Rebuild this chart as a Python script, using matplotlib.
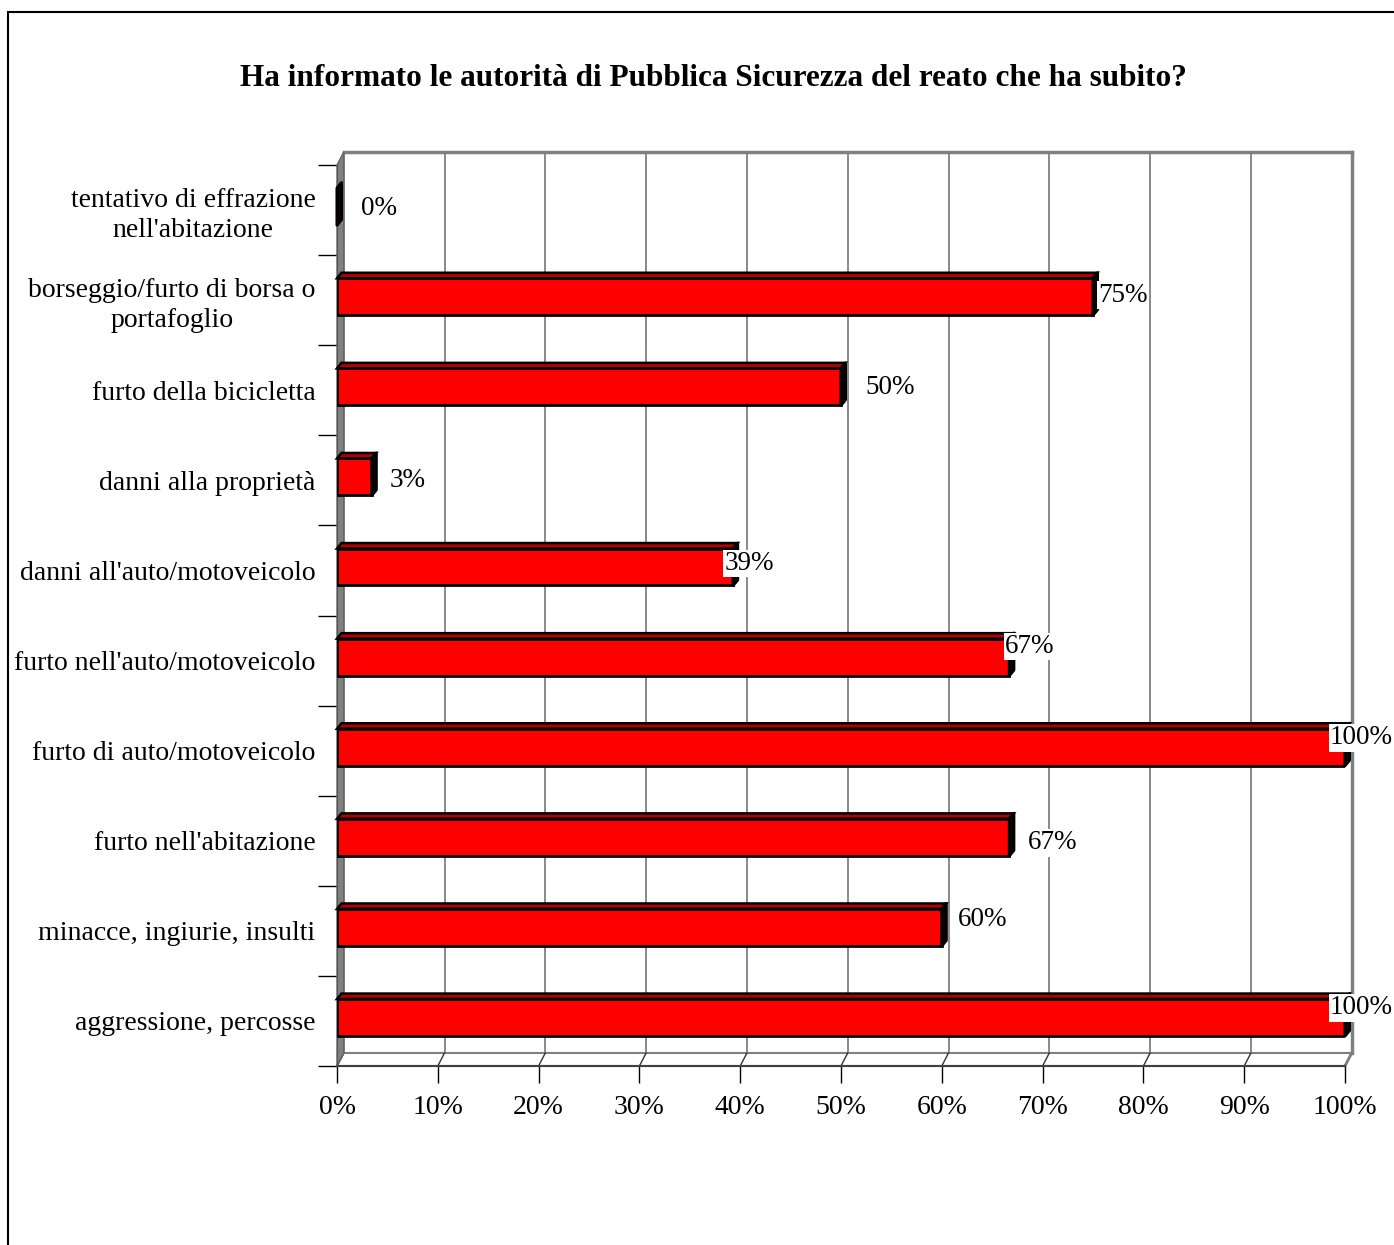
import matplotlib
matplotlib.use("Agg")
import matplotlib.pyplot as plt
from matplotlib.patches import Polygon, Rectangle

# ---- data (top to bottom) ----
categories = [
    "tentativo di effrazione\nnell'abitazione",
    "borseggio/furto di borsa o\nportafoglio",
    "furto della bicicletta",
    "danni alla proprietà",
    "danni all'auto/motoveicolo",
    "furto nell'auto/motoveicolo",
    "furto di auto/motoveicolo",
    "furto nell'abitazione",
    "minacce, ingiurie, insulti",
    "aggressione, percosse",
]
values = [0, 75, 50, 3.45, 39.3, 66.7, 100, 66.7, 60, 100]
xticks = [0, 10, 20, 30, 40, 50, 60, 70, 80, 90, 100]
xticklabels = [f"{t}%" for t in xticks]
title = "Ha informato le autorità di Pubblica Sicurezza del reato che ha subito?"

# label offsets in pixels (dx from bar end, dy from row centre)
label_dx = [24, 5, 24, 18, -9, -4, -15, 19, 16, -15]
label_dy = [2, 5, 3, 0, 7, 14, 13, -2, 11, 13]

SERIF = ["Liberation Serif", "DejaVu Serif"]
plt.rcParams["font.family"] = SERIF

W, H = 1394, 1245
fig = plt.figure(figsize=(W / 100, H / 100), dpi=100)

# outer border (left and top visible)
fig.add_artist(Rectangle((8 / W, -0.05), 1.2, 1 - 12 / H + 0.05,
                         transform=fig.transFigure, fill=False,
                         edgecolor="black", linewidth=1.5))

x0, x1 = 337, 1345
yb, yt = 1066, 165
ax = fig.add_axes([x0 / W, 1 - yb / H, (x1 - x0) / W, (yb - yt) / H])
n = len(categories)
ax.set_xlim(0, 100)
ax.set_ylim(0, n)
ax.patch.set_visible(False)

ux = 100 / (x1 - x0)
uy = n / (yb - yt)
DX, DY = 6.7 * ux, 13 * uy       # wall depth
bdx, bdy = 4.5 * ux, 5.5 * uy    # bar depth

gray = "#808080"
# floor
ax.add_patch(Polygon([(0, 0), (100, 0), (100 + DX, DY), (DX, DY)],
                     closed=True, facecolor="white", edgecolor=gray,
                     linewidth=1.5, zorder=1, clip_on=False))
# back wall grid lines
for t in xticks:
    ax.plot([t + DX, t + DX], [DY, n + DY], color=gray, lw=1.3,
            zorder=1.5, clip_on=False)
    ax.plot([t, t + DX], [0, DY], color="#333333", lw=1.0,
            zorder=1.5, clip_on=False)
ax.plot([DX, 100 + DX], [n + DY, n + DY], color=gray, lw=2.5,
        zorder=1.5, clip_on=False)
ax.plot([100 + DX, 100 + DX], [DY, n + DY], color=gray, lw=2.5,
        zorder=1.5, clip_on=False)
ax.plot([100, 100 + DX], [0, DY], color=gray, lw=2.0, zorder=1.5, clip_on=False)
# left wall
ax.add_patch(Polygon([(0, 0), (DX, DY), (DX, n + DY), (0, n)], closed=True,
                     facecolor=gray, edgecolor="#666666", linewidth=1.0,
                     zorder=2, clip_on=False))
# front floor edge
ax.plot([0, 100], [0, 0], color="#404040", lw=1.5, zorder=2, clip_on=False)

# bars
bar_h = 0.41
bar_off = 0.333
for i, (cat, v) in enumerate(zip(categories, values)):
    pos = n - 1 - i
    yb0 = pos + bar_off
    yb1 = yb0 + bar_h
    ax.barh(yb0 + bar_h / 2, v, height=bar_h, left=0, color="#ff0000",
            edgecolor="black", linewidth=2, zorder=4)
    ax.add_patch(Polygon([(0, yb1), (v, yb1), (v + bdx, yb1 + bdy), (bdx, yb1 + bdy)],
                         closed=True, facecolor="#b00000", edgecolor="black",
                         linewidth=1.8, zorder=4, clip_on=False))
    ax.add_patch(Polygon([(v, yb0), (v + bdx, yb0 + bdy), (v + bdx, yb1 + bdy), (v, yb1)],
                         closed=True, facecolor="#1a0000", edgecolor="black",
                         linewidth=2.2, zorder=4, clip_on=False, joinstyle="round"))
    ax.annotate(f"{round(v)}%", xy=(v, pos + 0.5),
                xytext=(label_dx[i], label_dy[i]), textcoords="offset pixels",
                ha="left", va="center", fontsize=19.5, color="black",
                bbox=dict(facecolor="white", edgecolor="none", pad=1),
                zorder=6, annotation_clip=False)

# axes styling
for s in ["top", "right"]:
    ax.spines[s].set_visible(False)
ax.spines["left"].set_color("#555555")
ax.spines["left"].set_zorder(2.5)
ax.spines["bottom"].set_visible(False)

ax.set_xticks(xticks)
ax.set_xticklabels(xticklabels, fontsize=20)
ax.tick_params(axis="x", direction="out", length=12.2, width=1.0,
               color="black", pad=9)

ax.set_yticks(range(0, n + 1))
ax.set_yticklabels([""] * (n + 1))
ax.tick_params(axis="y", which="major", direction="out", length=13.7,
               width=1.0, color="black")
ax.set_yticks([n - 1 - i + 0.5 for i in range(n)], minor=True)
ax.set_yticklabels(categories, minor=True, fontsize=20,
                   multialignment="center", linespacing=1.25)
ax.tick_params(axis="y", which="minor", length=0, pad=15.5)

fig.text(713 / W, 1 - 78 / H, title, ha="center", va="center",
         fontsize=22.5, fontweight="bold", family=SERIF)

fig.savefig("out.png", dpi=100)
